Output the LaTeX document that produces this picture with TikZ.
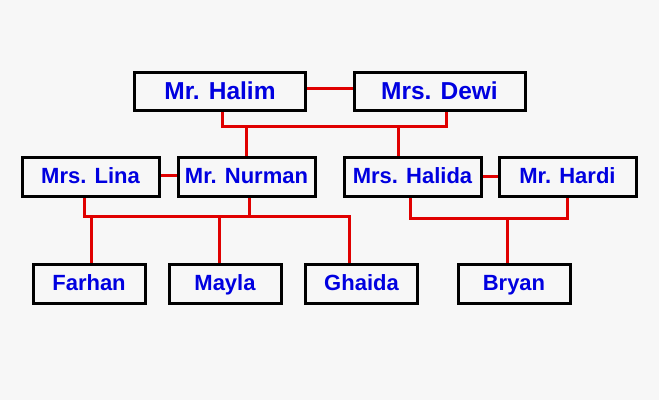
\documentclass[tikz,border=0pt]{standalone}
\usepackage{fontspec}
\setmainfont{Liberation Sans}
\usetikzlibrary{backgrounds}
\definecolor{bg}{HTML}{F7F7F7}
\definecolor{nameblue}{HTML}{0000E0}
\definecolor{tiered}{HTML}{E00000}
\pagecolor{bg}
\tikzset{pbox/.style = {shape = rectangle,
                        draw = black,
                        fill = bg,
                        line width = 3pt,
                        inner sep = 0pt,
                        minimum height = 39pt,
                        text height = 16pt,
                        text depth = 3pt,
                        text = nameblue,
                        font = \fontsize{22}{26}\selectfont\bfseries}}

\begin{document}
\begin{tikzpicture}[x=1pt, y=-1pt,
                    tie/.style = {draw = tiered,
                                  line width = 3pt},
                    big/.style = {minimum width = 171pt,
                                  minimum height = 38pt,
                                  text height = 17.5pt,
                                  text depth = 2.5pt,
                                  font = \fontsize{24.5}{29}\selectfont\bfseries},
                    mid/.style = {minimum width = 137pt},
                    kid/.style = {minimum width = 112pt}]
		\useasboundingbox (0,0) rectangle (659,400);
		% couples
		\node[pbox,big] (halim) at (220,91.5) {Mr. Halim};
		\node[pbox,big] (dewi) at (439.5,91.5) {Mrs. Dewi};
		\node[pbox,mid] (lina) at (90.5,176.5) {Mrs. Lina};
		\node[pbox,mid] (nurman) at (246.5,176.5) {Mr. Nurman};
		\node[pbox,mid] (halida) at (412.5,176.5) {Mrs. Halida};
		\node[pbox,mid] (hardi) at (567.5,176.5) {Mr. Hardi};
		% children
		\node[pbox,kid] (farhan) at (89,283.5) {Farhan};
		\node[pbox,kid] (mayla) at (225,283.5) {Mayla};
		\node[pbox,kid] (ghaida) at (361.5,283.5) {Ghaida};
		\node[pbox,kid] (bryan) at (514,283.5) {Bryan};
		\begin{scope}[on background layer]
		% marriages
		\path[tie] ([yshift=3.5]halim.east) -- ([yshift=3.5]dewi.west);
		\path[tie] ([yshift=1.5]lina.east) -- ([yshift=1.5]nurman.west);
		\path[tie] ([yshift=0.5]halida.east) -- ([yshift=0.5]hardi.west);
		% descent
		\path[tie] ([xshift=2]halim.south) |- ([xshift=6.5]dewi.south |- 0,126) -- ([xshift=6.5]dewi.south);
		\path[tie] (nurman.north) -- (nurman.north |- 0,126);
		\path[tie] ([xshift=-14.5]halida.north) -- ([xshift=-14.5]halida.north |- 0,126);
		\path[tie] ([xshift=-6.5]lina.south) |- ([xshift=-12.5]ghaida.north |- 0,216) -- ([xshift=-12.5]ghaida.north);
		\path[tie] ([xshift=2.5]nurman.south) -- ([xshift=2.5]nurman.south |- 0,216);
		\path[tie] ([xshift=2]farhan.north) -- ([xshift=2]farhan.north |- 0,216);
		\path[tie] ([xshift=-6]mayla.north) -- ([xshift=-6]mayla.north |- 0,216);
		\path[tie] ([xshift=-2.5]halida.south) |- ([xshift=-0.5]hardi.south |- 0,218) -- ([xshift=-0.5]hardi.south);
		\path[tie] ([xshift=-7]bryan.north) -- ([xshift=-7]bryan.north |- 0,218);
		\end{scope}
	\end{tikzpicture}
\end{document}
